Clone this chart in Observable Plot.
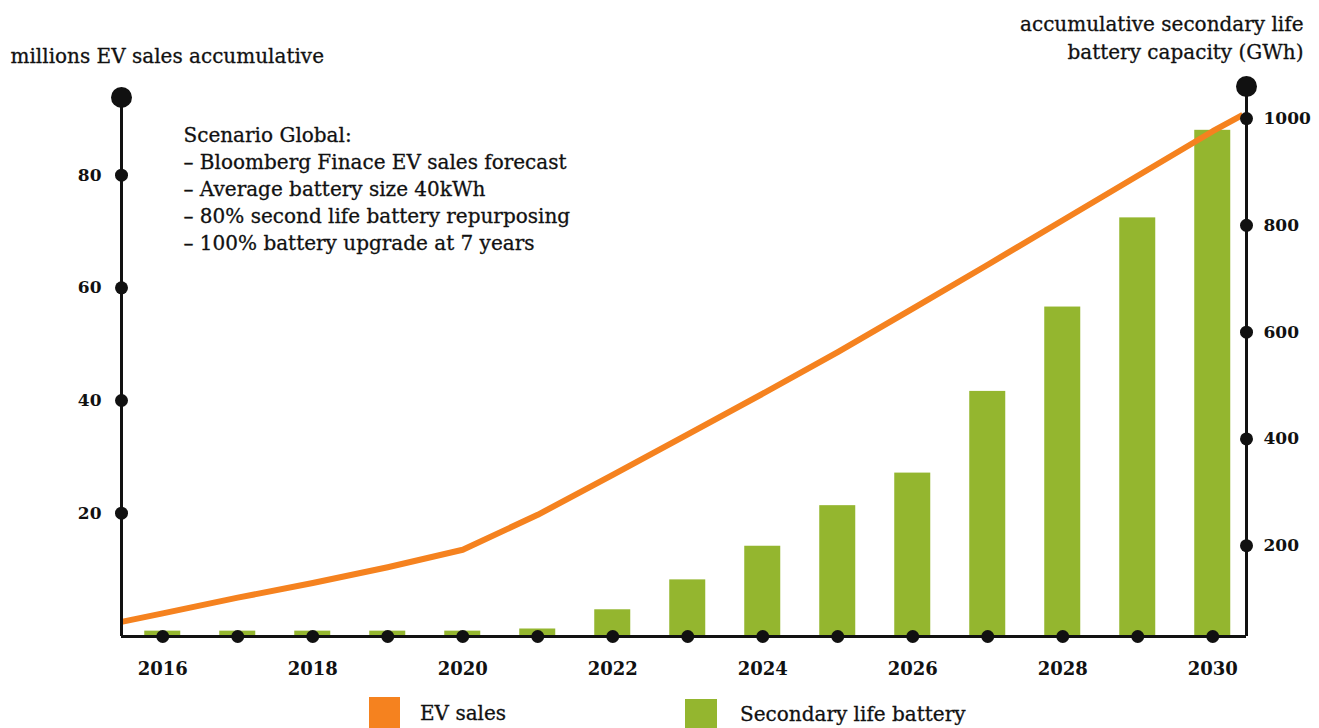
<!DOCTYPE html>
<html>
<head>
<meta charset="utf-8">
<script src="https://cdn.jsdelivr.net/npm/d3@7"></script>
<script src="https://cdn.jsdelivr.net/npm/@observablehq/plot@0.6"></script>
<style>
  html, body { margin: 0; padding: 0; background: #fff; overflow: hidden; }
  #wrap { position: relative; width: 1319px; height: 728px; font-family: "DejaVu Serif", serif; color: #111; }
  #chart { position: absolute; left: 0; top: 0; }
  .legend-item { position: absolute; top: 697px; display: flex; align-items: center; font-size: 20px; height: 31px; -webkit-text-stroke: 0.3px #111; }
  .swatch { position: absolute; top: 697px; width: 31px; height: 31px; }
</style>
</head>
<body>
<div id="wrap">
  <div id="chart"></div>
  <div class="swatch" style="left:369px; background:#F5821F;"></div>
  <div class="legend-item" style="left:420px;">EV sales</div>
  <div class="swatch" style="left:685px; top:699px; width:32px; background:#94B62F;"></div>
  <div class="legend-item" style="left:740px; top:698px;">Secondary life battery</div>
</div>
<script>
// ---- data ----
const years = [2016, 2017, 2018, 2019, 2020, 2021, 2022, 2023, 2024, 2025, 2026, 2027, 2028, 2029, 2030];
// accumulated EV sales, millions (left axis); line runs from the left axis to the right axis
const evLineYears  = [2015.45, 2016, 2017, 2018, 2019, 2020, 2021, 2022, 2023, 2024, 2025, 2026, 2027, 2028, 2029, 2030, 2030.4];
const evLineValues = [0.7, 2.2, 5.0, 7.6, 10.4, 13.5, 19.7, 26.8, 34.0, 41.2, 48.6, 56.3, 64.1, 72.0, 79.9, 87.8, 90.7];
// accumulated secondary life battery capacity, GWh (right axis)
const batteryGWh = [40, 40, 40, 40, 40, 44, 80, 136, 199, 275, 336, 489, 647, 814, 978];
const xTickYears = [2016, 2018, 2020, 2022, 2024, 2026, 2028, 2030];
const leftTicks = [20, 40, 60, 80];
const rightTicks = [200, 400, 600, 800, 1000];
const leftAxisTop = 93.8;     // millions (end dot of left axis)
const rightAxisTop = 1060;    // GWh (end dot of right axis)
const noteLines = [
  "Scenario Global:",
  "– Bloomberg Finace EV sales forecast",
  "– Average battery size 40kWh",
  "– 80% second life battery repurposing",
  "– 100% battery upgrade at 7 years"
];

// ---- dual axis mapping: GWh (right) -> millions (left) ----
const gwhOffset = 50, gwhPerMillion = 10.55;
const toLeft = v => (v - gwhOffset) / gwhPerMillion;

const xMin = 2015.45, xMax = 2030.45;
const yMin = -1.9, yMax = 95.74;

const ORANGE = "#F5821F";
const GREEN = "#94B62F";
const INK = "#111";

const bars = years.map((year, i) => ({year, gwh: batteryGWh[i]}));
const evLine = evLineYears.map((year, i) => ({year, value: evLineValues[i]}));

const textStyle = {fill: INK, stroke: INK, strokeWidth: 0.3};

const chart = Plot.plot({
  width: 1319,
  height: 690,
  marginLeft: 121,
  marginRight: 73,
  marginTop: 86,
  marginBottom: 54,
  x: {domain: [xMin, xMax], axis: null},
  y: {domain: [yMin, yMax], axis: null},
  style: {fontFamily: "DejaVu Serif", background: "white", color: INK, overflow: "visible"},
  marks: [
    Plot.rect(bars, {x1: d => d.year - 0.24, x2: d => d.year + 0.24, y1: yMin, y2: d => toLeft(d.gwh), fill: GREEN}),
    Plot.line(evLine, {x: "year", y: "value", stroke: ORANGE, strokeWidth: 6, strokeLinecap: "butt"}),
    Plot.ruleY([yMin], {x1: xMin, x2: xMax, stroke: INK, strokeWidth: 3}),
    Plot.ruleX([xMin], {y1: yMin, y2: leftAxisTop, stroke: INK, strokeWidth: 3}),
    Plot.ruleX([xMax], {y1: yMin, y2: toLeft(rightAxisTop), stroke: INK, strokeWidth: 3}),
    Plot.dot(years, {x: d => d, y: yMin, r: 6.5, fill: INK}),
    Plot.dot(leftTicks, {x: xMin, y: d => d, r: 6.5, fill: INK}),
    Plot.dot(rightTicks, {x: xMax, y: d => toLeft(d), r: 6.5, fill: INK}),
    Plot.dot([leftAxisTop], {x: xMin, y: d => d, r: 10.5, fill: INK}),
    Plot.dot([rightAxisTop], {x: xMax, y: d => toLeft(d), r: 10.5, fill: INK}),
    Plot.text(xTickYears, {x: d => d, y: yMin, dy: 33, text: d => String(d), fontSize: 18, fontWeight: "bold", fill: INK}),
    Plot.text(leftTicks, {x: xMin, y: d => d, dx: -20, text: d => String(d), textAnchor: "end", fontSize: 17, fontWeight: "bold", fill: INK}),
    Plot.text(rightTicks, {x: xMax, y: d => toLeft(d), dx: 17, text: d => String(d), textAnchor: "start", fontSize: 17, fontWeight: "bold", fill: INK}),
    Plot.text(["millions EV sales accumulative"], {frameAnchor: "top-left", dx: -111, dy: -38, textAnchor: "start", fontSize: 20, ...textStyle}),
    Plot.text(["accumulative secondary life\nbattery capacity (GWh)"], {frameAnchor: "top-right", dx: 57, dy: -75, textAnchor: "end", lineHeight: 1.4, fontSize: 20, ...textStyle}),
    Plot.text([noteLines.join("\n")], {frameAnchor: "top-left", dx: 62, dy: 36, textAnchor: "start", lineAnchor: "top", lineHeight: 1.35, fontSize: 20, ...textStyle})
  ]
});
document.getElementById("chart").appendChild(chart);
</script>
</body>
</html>
